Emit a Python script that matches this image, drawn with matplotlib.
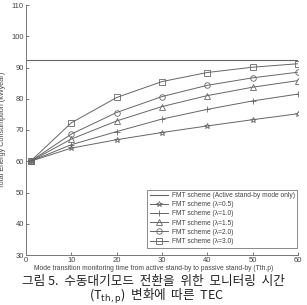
import numpy as np
import matplotlib
matplotlib.use("Agg")
import matplotlib.pyplot as plt

# Data
t = [1, 10, 20, 30, 40, 50, 60]
active_only = 92.5
lam05 = [60, 64.2, 66.9, 69.2, 71.3, 73.3, 75.2]
lam10 = [60, 65.3, 69.5, 73.5, 76.6, 79.3, 81.5]
lam15 = [60, 67.1, 72.9, 77.5, 81.0, 83.7, 85.8]
lam20 = [60, 68.7, 75.6, 80.7, 84.3, 86.7, 88.5]
lam30 = [60, 72.3, 80.4, 85.5, 88.4, 90.1, 91.2]

series = [
    (lam05, '*', 'FMT scheme (λ=0.5)'),
    (lam10, '+', 'FMT scheme (λ=1.0)'),
    (lam15, '^', 'FMT scheme (λ=1.5)'),
    (lam20, 'o', 'FMT scheme (λ=2.0)'),
    (lam30, 's', 'FMT scheme (λ=3.0)'),
]

plt.rcParams['font.family'] = ['Liberation Sans', 'DejaVu Sans']
lc = '#666666'
tc = '#444444'
fig = plt.figure(figsize=(3.07, 3.05), dpi=100)
ax = fig.add_axes([26 / 307, 1 - 255 / 305, 272 / 307, 250 / 305])

ax.axhline(active_only, color=lc, lw=0.8, label='FMT scheme (Active stand-by mode only)')
for vals, m, lab in series:
    ax.plot(t, vals, color=lc, lw=0.7, marker=m, markersize=4,
            markerfacecolor='none', markeredgecolor=lc, markeredgewidth=0.6, label=lab)

ax.set_xlim(0, 60)
ax.set_ylim(30, 110)
ax.set_xticks(range(0, 61, 10))
ax.set_yticks(range(30, 111, 10))
ax.tick_params(direction='in', labelsize=5.5, colors=tc, length=2.5, width=0.5, pad=1.5)
for s in ['top', 'right']:
    ax.spines[s].set_visible(False)
for s in ['left', 'bottom']:
    ax.spines[s].set_color('#777777')
    ax.spines[s].set_linewidth(0.7)

ax.set_ylabel('Total Energy Consumption (kWyear)', fontsize=5.2, color=tc)
ax.yaxis.set_label_coords(-0.075, 0.5)
fig.text(0.5, 1 - 268.5 / 305, 'Mode transition monitoring time from active stand-by to passive stand-by (Tth.p)',
         ha='center', va='center', fontsize=4.85, color=tc)

leg = ax.legend(loc='lower right', bbox_to_anchor=(0.997, 0.03), fontsize=4.8, frameon=True,
                fancybox=False, edgecolor='#555555', handlelength=2.8, borderpad=0.4,
                labelspacing=0.32, borderaxespad=0, handletextpad=0.5)
leg.get_frame().set_linewidth(0.6)
for txt in leg.get_texts():
    txt.set_color(tc)

kr = ['Noto Sans CJK KR', 'DejaVu Sans']
fig.text(0.5, 1 - 281.5 / 305, '그림 5.  수동대기모드  전환을  위한  모니터링  시간',
         ha='center', va='center', fontsize=9.1, family=kr, color='#222222')
fig.text(0.51, 1 - 296.5 / 305, r'(T$_{\mathrm{th,p}}$)  변화에  따른  TEC',
         ha='center', va='center', fontsize=9.1, family=kr, color='#222222')

fig.savefig('out.png', dpi=100)
